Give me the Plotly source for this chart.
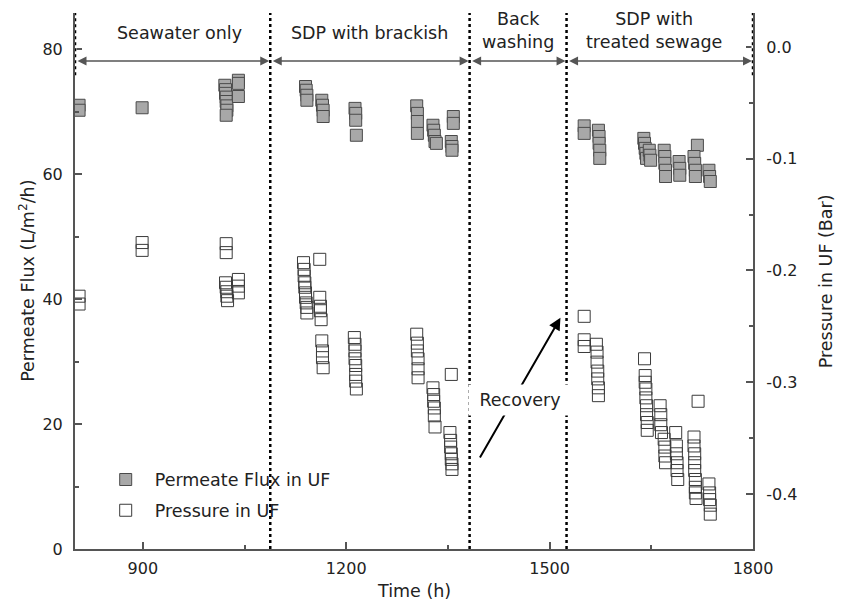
import plotly.graph_objects as go

# ---- data ----
flux_time = [806, 806, 899,
             1021, 1022, 1022, 1023, 1023, 1024, 1024, 1023, 1041, 1041, 1041,
             1140, 1141, 1142, 1142, 1164, 1165, 1166, 1166,
             1213, 1214, 1214, 1215, 1304, 1305, 1305, 1305,
             1328, 1329, 1330, 1331, 1333, 1358, 1358, 1355, 1356, 1356,
             1551, 1551, 1572, 1573, 1573, 1574, 1574,
             1639, 1640, 1641, 1642, 1643, 1647, 1648, 1649,
             1669, 1670, 1670, 1671, 1671, 1691, 1692, 1692,
             1718, 1713, 1714, 1715, 1715, 1735, 1736, 1737]
flux_vals = [71.0, 70.2, 70.6,
             74.2, 73.5, 72.9, 72.3, 71.6, 70.9, 70.2, 69.4, 75.0, 74.5, 72.4,
             74.0, 73.4, 72.6, 71.8, 71.8, 71.0, 70.2, 69.2,
             70.5, 69.7, 68.6, 66.2, 70.9, 69.7, 68.4, 66.5,
             67.8, 67.0, 66.2, 65.2, 64.9, 69.2, 68.1, 65.2, 64.4, 63.8,
             67.7, 66.5, 67.0, 66.0, 64.9, 63.8, 62.5,
             65.7, 64.9, 64.1, 63.3, 62.5, 63.8, 63.0, 62.2,
             63.8, 62.8, 61.7, 60.6, 59.6, 62.0, 60.9, 59.8,
             64.6, 62.8, 61.7, 60.6, 59.6, 60.6, 59.6, 58.8]

press_time = [806, 806, 899, 899, 1023, 1023,
              1022, 1023, 1024, 1024, 1025, 1041, 1041, 1041,
              1137, 1138, 1138, 1139, 1139, 1140, 1140, 1141, 1142, 1142,
              1161, 1161, 1162, 1162, 1163,
              1164, 1165, 1165, 1166,
              1212, 1213, 1213, 1213, 1214, 1214, 1214, 1215,
              1304, 1305, 1305, 1306, 1306, 1306,
              1355,
              1328, 1329, 1329, 1330, 1330, 1331,
              1353, 1354, 1354, 1355, 1355, 1356, 1356,
              1551, 1551, 1551,
              1569, 1570, 1570, 1571, 1571, 1572, 1572,
              1640,
              1641, 1641, 1642, 1642, 1643, 1643, 1644, 1644,
              1663, 1664, 1664, 1665,
              1669, 1670, 1670, 1671,
              1686, 1687, 1687, 1688, 1688, 1689,
              1719,
              1713, 1713, 1714, 1714, 1714, 1715, 1715, 1715, 1716,
              1735, 1736, 1736, 1737, 1737]
press_vals = [-0.223, -0.230, -0.175, -0.182, -0.176, -0.184,
              -0.211, -0.215, -0.219, -0.223, -0.227, -0.208, -0.214, -0.220,
              -0.193, -0.199, -0.205, -0.211, -0.215, -0.220, -0.224, -0.229, -0.233, -0.238,
              -0.190, -0.224, -0.232, -0.236, -0.244,
              -0.263, -0.272, -0.278, -0.287,
              -0.260, -0.266, -0.272, -0.279, -0.285, -0.293, -0.299, -0.306,
              -0.257, -0.265, -0.272, -0.279, -0.288, -0.296,
              -0.293,
              -0.305, -0.311, -0.317, -0.323, -0.330, -0.340,
              -0.345, -0.352, -0.358, -0.364, -0.369, -0.373, -0.378,
              -0.241, -0.262, -0.268,
              -0.266, -0.273, -0.282, -0.290, -0.297, -0.305, -0.312,
              -0.279,
              -0.294, -0.300, -0.306, -0.314, -0.321, -0.329, -0.336, -0.343,
              -0.321, -0.329, -0.338, -0.345,
              -0.351, -0.358, -0.366, -0.372,
              -0.345, -0.357, -0.364, -0.372, -0.379, -0.387,
              -0.317,
              -0.349, -0.357, -0.364, -0.372, -0.379, -0.387, -0.394, -0.399, -0.404,
              -0.391, -0.399, -0.405, -0.410, -0.418]

phase_bounds = [800, 1088, 1382, 1525, 1800]
phase_labels = ["Seawater only", "SDP with brackish", "Back<br>washing", "SDP with<br>treated sewage"]
phase_label_x = [954, 1234, 1453, 1654]

FONT = "DejaVu Sans"
TXT = "#222222"
AX = "#555555"
FS = 17.5
TFS = 16

fig = go.Figure()
fig.add_trace(go.Scatter(
    x=flux_time, y=flux_vals, mode="markers", name="Permeate Flux in UF",
    legendgroup="a",
    marker=dict(symbol="square", size=12, color="#a8a8a8",
                line=dict(color="#4a4a4a", width=1))))
fig.add_trace(go.Scatter(
    x=press_time, y=press_vals, mode="markers", name="Pressure in UF",
    legendgroup="b", yaxis="y2",
    marker=dict(symbol="square-open", size=12, color="#3a3a3a",
                line=dict(width=1))))

y_top = 85.76
shapes = []
for xb in phase_bounds[1:-1]:
    shapes.append(dict(type="line", xref="x", yref="paper", x0=xb, x1=xb, y0=0, y1=1,
                       line=dict(color="black", width=2.5, dash="dot"), layer="above"))
for xb in [phase_bounds[0], phase_bounds[-1]]:
    shapes.append(dict(type="line", xref="x", yref="paper", x0=xb, x1=xb, y0=0.884, y1=1,
                       line=dict(color="white", width=3), layer="above"))
    shapes.append(dict(type="line", xref="x", yref="paper", x0=xb, x1=xb, y0=0.884, y1=1,
                       line=dict(color="black", width=2.5, dash="dot"), layer="above"))

annotations = []
arrow_y = 78.08
for i in range(len(phase_bounds) - 1):
    a, b = phase_bounds[i], phase_bounds[i + 1]
    annotations.append(dict(x=b, y=arrow_y, ax=a, ay=arrow_y, xref="x", yref="y",
                            axref="x", ayref="y", text="", showarrow=True,
                            arrowhead=2, arrowsize=1.2, arrowwidth=1.5, arrowcolor="#555555",
                            arrowside="end+start", standoff=1, startstandoff=1))
for lab, lx in zip(phase_labels, phase_label_x):
    yy = 82.6 if "<br>" not in lab else 83.0
    annotations.append(dict(x=lx, y=yy, xref="x", yref="y", text=lab, showarrow=False,
                            font=dict(family=FONT, size=FS, color=TXT), align="center"))
annotations.append(dict(x=1516, y=37.0, ax=1396, ay=14.4, xref="x", yref="y",
                        axref="x", ayref="y", text="", showarrow=True,
                        arrowhead=2, arrowsize=1.2, arrowwidth=2, arrowcolor="black"))
annotations.append(dict(x=1456, y=23.8, xref="x", yref="y", text="Recovery", showarrow=False,
                        bgcolor="white", borderpad=5, width=92,
                        font=dict(family=FONT, size=FS, color=TXT)))
annotations.append(dict(x=-0.071, y=0.5, xref="paper", yref="paper",
                        xanchor="center", yanchor="middle",
                        text="Permeate Flux (L/m<sup>2</sup>/h)", textangle=-90,
                        showarrow=False, font=dict(family=FONT, size=FS, color=TXT)))
annotations.append(dict(x=1.108, y=0.5, xref="paper", yref="paper",
                        xanchor="center", yanchor="middle",
                        text="Pressure in UF (Bar)", textangle=-90,
                        showarrow=False, font=dict(family=FONT, size=FS, color=TXT)))
annotations.append(dict(x=0.5, y=-0.078, xref="paper", yref="paper",
                        xanchor="center", yanchor="middle",
                        text="Time (h)", showarrow=False,
                        font=dict(family=FONT, size=FS, color=TXT)))

fig.update_layout(
    width=842, height=611,
    margin=dict(l=75, r=89, t=13, b=62),
    paper_bgcolor="white", plot_bgcolor="white",
    showlegend=True,
    legend=dict(x=0.032, y=0.163, xanchor="left", yanchor="top", itemwidth=48,
                bgcolor="rgba(0,0,0,0)", font=dict(family=FONT, size=FS, color=TXT),
                tracegroupgap=5, traceorder="grouped"),
    font=dict(family=FONT, size=TFS, color=TXT),
    xaxis=dict(range=[800, 1800], tickvals=[900, 1200, 1500, 1800], showgrid=False,
               zeroline=False, showline=True, linecolor=AX, linewidth=2,
               ticks="inside", ticklen=7, tickwidth=1.5, tickcolor=AX, ticklabelstandoff=4,
               minor=dict(tickvals=[1050, 1350, 1650], ticks="inside", ticklen=4,
                          tickcolor=AX, tickwidth=1.5),
               tickfont=dict(family=FONT, size=TFS, color=TXT)),
    yaxis=dict(range=[0, y_top], tickvals=[0, 20, 40, 60, 80], showgrid=False,
               zeroline=False, showline=True, linecolor=AX, linewidth=2,
               ticks="inside", ticklen=7, tickwidth=1.5, tickcolor=AX, ticklabelstandoff=7,
               minor=dict(tickvals=[10, 30, 50, 70], ticks="inside", ticklen=4,
                          tickcolor=AX, tickwidth=1.5),
               tickfont=dict(family=FONT, size=TFS, color=TXT)),
    yaxis2=dict(range=[-0.4492, 0.0304], overlaying="y", side="right",
                tickvals=[0.0, -0.1, -0.2, -0.3, -0.4],
                ticktext=["0.0", "-0.1", "-0.2", "-0.3", "-0.4"],
                showgrid=False, zeroline=False, showline=True, linecolor=AX, linewidth=2,
                ticks="inside", ticklen=7, tickwidth=1.5, tickcolor=AX, ticklabelstandoff=8,
                minor=dict(tickvals=[-0.05, -0.15, -0.25, -0.35], ticks="inside", ticklen=4,
                           tickcolor=AX, tickwidth=1.5),
                tickfont=dict(family=FONT, size=TFS, color=TXT)),
    shapes=shapes,
    annotations=annotations,
)

fig.write_html("out.html")
